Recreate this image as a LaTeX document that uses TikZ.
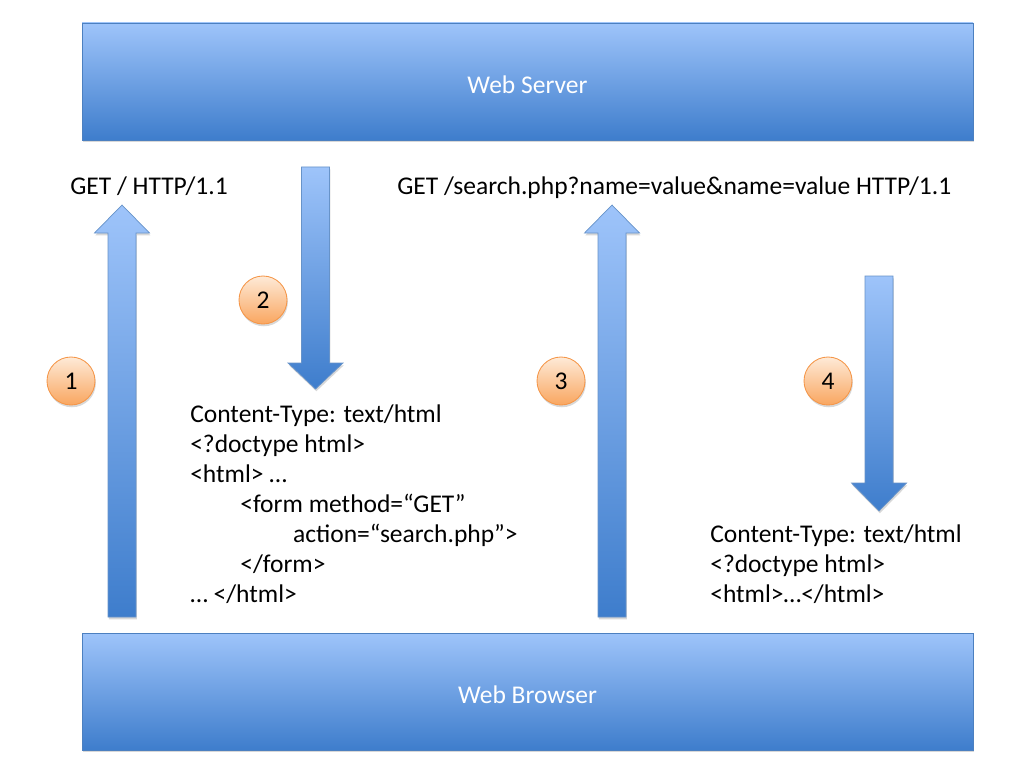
\documentclass[tikz,border=0pt]{standalone}
\usepackage{fontspec}
\setmainfont{Carlito}
\usetikzlibrary{shadows}
\definecolor{boxtop}{RGB}{158,196,250}
\definecolor{boxbot}{RGB}{62,125,204}
\definecolor{boxedge}{RGB}{76,128,192}
\definecolor{badgetop}{RGB}{254,234,215}
\definecolor{badgebot}{RGB}{249,166,96}
\definecolor{badgeedge}{RGB}{245,150,72}
\def\px{0.0248cm}
\def\shaftw{14}
\def\headw{27.5}
\tikzset{
    softshadow/.style={drop shadow={opacity=0.3,shadow xshift=0.6pt,shadow yshift=-1.6pt}},
    bar/.style={draw=boxedge,line width=0.6pt,top color=boxtop,bottom color=boxbot,softshadow,text=white,font=\fontsize{18}{21.6}\selectfont,text height=25*\px,minimum width=891*\px,minimum height=117*\px},
    blockarrow/.style={draw=boxedge!85,line width=0.5pt,top color=boxtop,bottom color=boxbot,softshadow},
    badge/.style={circle,draw=badgeedge,line width=0.6pt,top color=badgetop,bottom color=badgebot,softshadow,minimum size=48*\px,inner sep=0pt,font=\fontsize{18}{21.6}\selectfont},
    msg/.style={font=\fontsize{18}{21.6}\selectfont,inner sep=0pt,anchor=base west},
    body/.style={font=\fontsize{18}{21.2}\selectfont,inner sep=0pt,anchor=north west,align=left}
}
% x tail-y headbase-y tip-y
\def\bigarrow#1#2#3#4{\draw[blockarrow] ({#1-\shaftw},#2) -- ({#1-\shaftw},#3) -- ({#1-\headw},#3) -- (#1,#4) -- ({#1+\headw},#3) -- ({#1+\shaftw},#3) -- ({#1+\shaftw},#2) -- cycle;}

\begin{document}
\begin{tikzpicture}[x=\px,y=-\px]
  \useasboundingbox[fill=white] (0,0) rectangle (1024,768);

  % Server and browser
  \node[bar] (server) at (527.5,81.5) {Web Server};
  \node[bar] (browser) at (527.5,691.5) {Web Browser};

  % Arrows
  \bigarrow{122}{617}{233}{205}
  \bigarrow{315.5}{167}{363}{389}
  \bigarrow{612}{617}{233}{205}
  \bigarrow{879}{276}{483}{511}

  % Steps
  \node[badge] (step1) at (71,381) {1};
  \node[badge] (step2) at (263,300) {2};
  \node[badge] (step3) at (561,381) {3};
  \node[badge] (step4) at (828,381) {4};

  % Requests
  \node[msg] (req1) at (70,195) {GET / HTTP/1.1};
  \node[msg] (req2) at (397,195) {GET /search.php?name=value\&name=value HTTP/1.1};

  % Responses
  \node[body] (resp1) at (190,404) {Content-Type: text/html\\
    <?doctype html>\\
    <html> …\\
    \hspace*{1.24cm}<form method=“GET”\\
    \hspace*{2.55cm}action=“search.php”>\\
    \hspace*{1.24cm}</form>\\
    … </html>};
  \node[body] (resp2) at (710,524) {Content-Type: text/html\\
    <?doctype html>\\
    <html>…</html>};
\end{tikzpicture}
\end{document}
